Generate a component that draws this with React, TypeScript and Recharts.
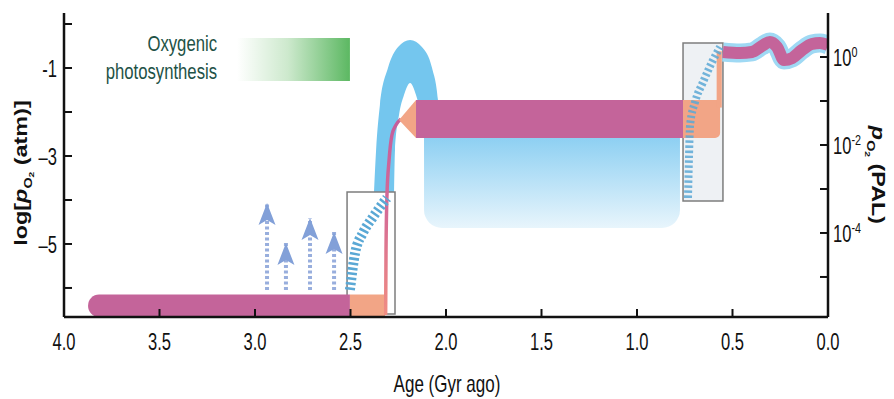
import React from 'react';
import {
  ComposedChart,
  Line,
  Area,
  XAxis,
  YAxis,
  ReferenceArea,
  Rectangle,
} from 'recharts';

// axes
const xTicks = [4, 3.5, 3, 2.5, 2, 1.5, 1, 0.5, 0];
const xTickLabels = ['4.0', '3.5', '3.0', '2.5', '2.0', '1.5', '1.0', '0.5', '0.0'];
const leftTicks = [0, -1, -2, -3, -4, -5, -6];
const leftLabelled = [-1, -3, -5];
const leftLabelText = ['-1', '–3', '–5'];
const rightTicks = [0, -1, -2, -3, -4, -5];
const rightLabelled = [0, -2, -4];
const yMin = -6.66;
const yMax = 0.25;
const palOffset = 0.75; // log PAL = log atm + offset

// blocks: [age start, age end, log pO2 low, log pO2 high]
const photoBar = [3.094, 2.503, -1.295, -0.318];
const archeanBar = [3.874, 2.503, -6.66, -6.15];
const archeanOrange = [2.503, 2.319, -6.66, -6.15];
const goeBox = [2.518, 2.267, -6.59, -3.818];
const proteroBar = [2.157, 0.759, -2.591, -1.727];
const proteroLow = [2.115, 0.775, -4.636, -2.55];
const noeBox = [0.759, 0.55, -4.023, -0.432];
const noeOrange = [0.759, 0.565, -2.591, -1.727];
const noeRise = [0.583, 0.556, -1.9, -0.62];

// curves: [age, log pO2]
const archBase = -3.818;
const archOuter = [
  [2.377, -3.818], [2.366, -2.864], [2.346, -1.841], [2.304, -1.0], [2.251, -0.523],
  [2.188, -0.364], [2.126, -0.523], [2.073, -1.0], [2.042, -1.727], [2.031, -2.523],
];
const archInner = [
  [2.272, -3.818], [2.267, -2.864], [2.246, -2.068], [2.22, -1.614], [2.188, -1.341],
  [2.157, -1.614], [2.131, -2.068], [2.115, -2.523], [2.105, -3.818],
];
const goeHatch = [[2.503, -6.045], [2.476, -5.205], [2.435, -4.75], [2.382, -4.386], [2.309, -3.955]];
const noeHatch = [
  [0.733, -3.955], [0.728, -3.045], [0.722, -2.295], [0.696, -1.773],
  [0.654, -1.318], [0.607, -0.864], [0.565, -0.523],
];
const goeRise = [
  [2.316, -6.614], [2.314, -5.136], [2.309, -3.886], [2.298, -3.091],
  [2.283, -2.523], [2.262, -2.295], [2.236, -2.159],
];
const wedge = [[2.246, -2.182, -2.182], [2.157, -2.591, -1.727]];
const wave = [
  [0.55, -0.636], [0.461, -0.659], [0.398, -0.636], [0.346, -0.5], [0.304, -0.409],
  [0.267, -0.523], [0.23, -0.818], [0.188, -0.773], [0.136, -0.591], [0.084, -0.455],
  [0.042, -0.432], [0, -0.477],
];
const arrowX = [2.937, 2.838, 2.712, 2.586];
const arrowTip = [-4.068, -4.977, -4.409, -4.727];
const arrowBase = -6.045;

const FONT = '"Liberation Sans", Arial, Helvetica, sans-serif';
const MAGENTA = '#c4649a';
const ORANGE = '#f2a586';
const SKY = '#74c6ee';
const HATCH = '#5aa8d5';
const INK = '#111';

const pts = (arr: number[][]) => arr.map(([x, y]) => ({ x, y }));

const XTick = (props: any) => {
  const { x, y, payload } = props;
  const i = xTicks.indexOf(payload.value);
  return (
    <text transform={`translate(${x},${y + 33}) scale(0.72,1)`} textAnchor="middle" fontSize={23} fill={INK} fontFamily={FONT}>
      {xTickLabels[i]}
    </text>
  );
};

const LeftTick = (props: any) => {
  const { x, y, payload } = props;
  const i = leftLabelled.indexOf(payload.value);
  if (i < 0) return <g />;
  return (
    <text transform={`translate(${x - 7},${y + 9}) scale(0.72,1)`} textAnchor="end" fontSize={23} fill={INK} fontFamily={FONT}>
      {leftLabelText[i]}
    </text>
  );
};

const RightTick = (props: any) => {
  const { x, y, payload } = props;
  if (!rightLabelled.includes(payload.value)) return <g />;
  const exp = payload.value === 0 ? '0' : String(payload.value);
  return (
    <text transform={`translate(${x + 5},${y + 9}) scale(0.72,1)`} textAnchor="start" fontSize={23} fill={INK} fontFamily={FONT}>
      10<tspan fontSize={15} dy={-9}>{exp}</tspan>
    </text>
  );
};

const LeftTitle = (props: any) => {
  const vb = props.viewBox || { x: 20, y: 13, height: 304 };
  const cx = vb.x + 7;
  const cy = vb.y + vb.height / 2 + 8;
  return (
    <text transform={`translate(${cx},${cy}) rotate(-90) scale(1.3,1)`} textAnchor="middle" fontSize={18} fontWeight="bold" fill={INK} fontFamily={FONT}>
      <tspan>log[</tspan>
      <tspan fontStyle="italic">p</tspan>
      <tspan fontSize={11} dy={5}>O</tspan>
      <tspan fontSize={8} dy={2}>2</tspan>
      <tspan dy={-7}> (atm)]</tspan>
    </text>
  );
};

const RightTitle = (props: any) => {
  const vb = props.viewBox || { x: 828, y: 13, height: 304 };
  const cx = vb.x + 44;
  const cy = vb.y + vb.height / 2 + 10;
  return (
    <text transform={`translate(${cx},${cy}) rotate(90) scale(1.3,1)`} textAnchor="middle" fontSize={18} fontWeight="bold" fill={INK} fontFamily={FONT}>
      <tspan fontStyle="italic">p</tspan>
      <tspan fontSize={11} dy={5}>O</tspan>
      <tspan fontSize={8} dy={2}>2</tspan>
      <tspan dy={-7}> (PAL)</tspan>
    </text>
  );
};

const XTitle = (props: any) => {
  const vb = props.viewBox || { x: 64, y: 317, width: 764 };
  return (
    <text transform={`translate(${vb.x + vb.width / 2 + 1},${vb.y + 75}) scale(0.74,1)`} textAnchor="middle" fontSize={23} fill={INK} fontFamily={FONT}>
      Age (Gyr ago)
    </text>
  );
};

const PhotoLabel = (props: any) => {
  const vb = props.viewBox;
  if (!vb) return null;
  const right = vb.x - 20;
  const mid = vb.y + vb.height / 2;
  return (
    <g fill="#1e5246" fontFamily={FONT} fontSize={22}>
      <text transform={`translate(${right},${mid - 8}) scale(0.76,1)`} textAnchor="end">Oxygenic</text>
      <text transform={`translate(${right},${mid + 20}) scale(0.76,1)`} textAnchor="end">photosynthesis</text>
    </g>
  );
};

const ArrowHead = (props: any) => {
  const { cx, cy, index } = props;
  if (index !== 1 || cx == null) return <g key={`a${index}`} />;
  return (
    <polygon
      key={`a${index}`}
      points={`${cx},${cy} ${cx + 8.5},${cy + 22} ${cx},${cy + 17} ${cx - 8.5},${cy + 22}`}
      fill="#82a0d8"
    />
  );
};

const block = (b: number[], z: number, extra: any) => (
  <ReferenceArea
    yAxisId="left"
    x1={b[0]}
    x2={b[1]}
    y1={b[2]}
    y2={b[3]}
    ifOverflow="visible"
    zIndex={z}
    {...extra}
  />
);

export default function App() {
  return (
    <div style={{ position: 'absolute', left: 0, top: 0, width: 894, height: 399, background: '#fff' }}>
      <ComposedChart width={894} height={399} margin={{ top: 13, right: 20, bottom: 32, left: 20 }}>
        <defs>
          <linearGradient id="photoGrad" x1="0" y1="0" x2="1" y2="0">
            <stop offset="0%" stopColor="#ffffff" />
            <stop offset="45%" stopColor="#cde9cd" />
            <stop offset="100%" stopColor="#5cb862" />
          </linearGradient>
          <linearGradient id="lowGrad" x1="0" y1="0" x2="0" y2="1">
            <stop offset="0%" stopColor="#8ccff2" />
            <stop offset="100%" stopColor="#e8f5fc" />
          </linearGradient>
          <linearGradient id="riseGrad" x1="0" y1="0" x2="0" y2="1">
            <stop offset="0%" stopColor="#c45e9c" />
            <stop offset="45%" stopColor="#d46a96" />
            <stop offset="100%" stopColor="#f08d82" />
          </linearGradient>
        </defs>

        {block(photoBar, 10, { fill: 'url(#photoGrad)', fillOpacity: 1, stroke: 'none', label: PhotoLabel })}

        <Area
          yAxisId="left"
          data={archOuter.map(([x, y]) => ({ x, range: [archBase, y] }))}
          dataKey="range"
          type="monotoneX"
          fill={SKY}
          fillOpacity={1}
          stroke="none"
          dot={false}
          activeDot={false}
          isAnimationActive={false}
          zIndex={20}
        />
        <Area
          yAxisId="left"
          data={archInner.map(([x, y]) => ({ x, range: [archBase, y] }))}
          dataKey="range"
          type="monotoneX"
          fill="#ffffff"
          fillOpacity={1}
          stroke="none"
          dot={false}
          activeDot={false}
          isAnimationActive={false}
          zIndex={21}
        />

        {block(proteroLow, 30, {
          fill: 'url(#lowGrad)',
          fillOpacity: 1,
          stroke: 'none',
          shape: (p: any) => <Rectangle {...p} radius={[0, 0, 18, 18]} />,
        })}
        {block(goeBox, 31, { fill: '#ffffff', fillOpacity: 0.6, stroke: '#7d7d7d', strokeWidth: 1.5 })}
        {block(noeBox, 32, { fill: '#eef1f4', fillOpacity: 1, stroke: '#7d7d7d', strokeWidth: 1.5 })}
        {block(archeanBar, 33, {
          fill: MAGENTA,
          fillOpacity: 1,
          stroke: 'none',
          shape: (p: any) => <Rectangle {...p} radius={[11, 0, 0, 11]} />,
        })}
        {block(archeanOrange, 34, { fill: ORANGE, fillOpacity: 1, stroke: 'none' })}

        <Line
          yAxisId="left"
          data={pts(goeRise)}
          dataKey="y"
          type="monotoneX"
          stroke="url(#riseGrad)"
          strokeWidth={3.5}
          dot={false}
          activeDot={false}
          isAnimationActive={false}
          zIndex={40}
        />

        {block(proteroBar, 50, { fill: MAGENTA, fillOpacity: 1, stroke: 'none' })}
        <Area
          yAxisId="left"
          data={wedge.map(([x, lo, hi]) => ({ x, range: [lo, hi] }))}
          dataKey="range"
          type="linear"
          fill={ORANGE}
          fillOpacity={1}
          stroke="none"
          dot={false}
          activeDot={false}
          isAnimationActive={false}
          zIndex={51}
        />
        {block(noeOrange, 52, {
          fill: ORANGE,
          fillOpacity: 1,
          stroke: 'none',
          shape: (p: any) => <Rectangle {...p} radius={[0, 0, 5, 0]} />,
        })}
        {block(noeRise, 53, { fill: ORANGE, fillOpacity: 1, stroke: 'none' })}

        <Line
          yAxisId="left"
          data={pts(goeHatch)}
          dataKey="y"
          type="monotoneX"
          stroke={HATCH}
          strokeWidth={10}
          strokeDasharray="2.5 2.5"
          dot={false}
          activeDot={false}
          isAnimationActive={false}
          zIndex={60}
        />
        <Line
          yAxisId="left"
          data={pts(noeHatch)}
          dataKey="y"
          type="monotoneX"
          stroke={HATCH}
          strokeOpacity={0.85}
          strokeWidth={8}
          strokeDasharray="2.5 2.5"
          dot={false}
          activeDot={false}
          isAnimationActive={false}
          zIndex={61}
        />

        <Line
          yAxisId="left"
          data={pts(wave)}
          dataKey="y"
          type="monotoneX"
          stroke="#9fd9f4"
          strokeWidth={19}
          dot={false}
          activeDot={false}
          isAnimationActive={false}
          zIndex={70}
        />
        <Line
          yAxisId="left"
          data={pts(wave)}
          dataKey="y"
          type="monotoneX"
          stroke={MAGENTA}
          strokeWidth={12}
          dot={false}
          activeDot={false}
          isAnimationActive={false}
          zIndex={71}
        />

        {arrowX.map((ax, i) => (
          <Line
            key={`arrow${i}`}
            yAxisId="left"
            data={[{ x: ax, y: arrowBase }, { x: ax, y: arrowTip[i] }]}
            dataKey="y"
            type="linear"
            stroke="#98aedd"
            strokeWidth={4}
            strokeDasharray="3 2.5"
            dot={ArrowHead}
            activeDot={false}
            isAnimationActive={false}
            zIndex={80 + i}
          />
        ))}

        <XAxis
          dataKey="x"
          type="number"
          domain={[0, 4]}
          reversed
          allowDataOverflow
          ticks={xTicks}
          interval={0}
          height={50}
          tickSize={-8}
          tickMargin={8}
          tick={XTick}
          tickLine={{ stroke: INK, strokeWidth: 2 }}
          axisLine={{ stroke: INK, strokeWidth: 2.5 }}
          label={{ content: XTitle }}
        />
        <XAxis
          xAxisId="top"
          orientation="top"
          type="number"
          domain={[0, 4]}
          reversed
          allowDataOverflow
          height={0}
          tick={false}
          tickLine={false}
          axisLine={{ stroke: INK, strokeWidth: 2.5 }}
        />
        <YAxis
          yAxisId="left"
          type="number"
          domain={[yMin, yMax]}
          allowDataOverflow
          ticks={leftTicks}
          interval={0}
          width={44}
          tickSize={-8}
          tickMargin={8}
          tick={LeftTick}
          tickLine={{ stroke: INK, strokeWidth: 2 }}
          axisLine={{ stroke: INK, strokeWidth: 2.5 }}
          label={{ content: LeftTitle }}
        />
        <YAxis
          yAxisId="right"
          orientation="right"
          type="number"
          domain={[yMin + palOffset, yMax + palOffset]}
          allowDataOverflow
          ticks={rightTicks}
          interval={0}
          width={46}
          tickSize={-8}
          tickMargin={8}
          tick={RightTick}
          tickLine={{ stroke: INK, strokeWidth: 2 }}
          axisLine={{ stroke: INK, strokeWidth: 2.5 }}
          label={{ content: RightTitle }}
        />
      </ComposedChart>
    </div>
  );
}
